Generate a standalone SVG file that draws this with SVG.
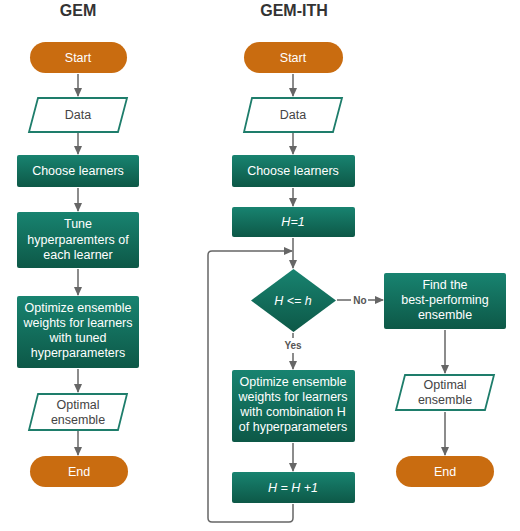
<svg xmlns="http://www.w3.org/2000/svg" width="520" height="531" viewBox="0 0 520 531">
<defs>
<linearGradient id="g" x1="0" y1="0" x2="0" y2="1">
<stop offset="0" stop-color="#188370"/>
<stop offset="1" stop-color="#0d5847"/>
</linearGradient>
<marker id="ah" markerWidth="10" markerHeight="10" refX="8" refY="5" orient="auto" markerUnits="userSpaceOnUse">
<path d="M0,1 L9,5 L0,9 Z" fill="#666"/>
</marker>
<style>
.title{font-family:"Liberation Sans",Arial,sans-serif;font-size:16px;font-weight:bold;fill:#333;text-anchor:middle}
.t{font-family:"Liberation Sans",Arial,sans-serif;font-size:12.5px;text-anchor:middle}
.w{fill:#fff}
.d{fill:#444}
.i{font-style:italic}
.term{fill:#c96c10}
.proc{fill:url(#g)}
.io{fill:#fff;stroke:#1e7d6b;stroke-width:1.8}
.c{fill:none;stroke:#666;stroke-width:1.5}
.ca{fill:none;stroke:#666;stroke-width:1.5;marker-end:url(#ah)}
.lbl{font-family:"Liberation Sans",Arial,sans-serif;font-size:10px;font-weight:bold;fill:#555;text-anchor:middle}
</style>
</defs>
<rect width="520" height="531" fill="#fff"/>
<text class="title" x="78" y="16">GEM</text>
<text class="title" x="294" y="16">GEM-ITH</text>

<g id="connectors">
<line class="ca" x1="78" y1="74" x2="78" y2="96"/>
<line class="ca" x1="78" y1="133" x2="78" y2="154"/>
<line class="ca" x1="78" y1="188" x2="78" y2="211"/>
<line class="ca" x1="78" y1="269" x2="78" y2="295"/>
<line class="ca" x1="78" y1="369" x2="78" y2="392"/>
<line class="ca" x1="78" y1="431" x2="78" y2="455"/>

<line class="ca" x1="293" y1="74" x2="293" y2="96"/>
<line class="ca" x1="293" y1="133" x2="293" y2="154"/>
<line class="ca" x1="293" y1="188" x2="293" y2="206"/>
<line class="ca" x1="293" y1="238" x2="293" y2="268"/>
<line class="c" x1="293" y1="333" x2="293" y2="338"/>
<line class="ca" x1="293" y1="353" x2="293" y2="369"/>
<line class="ca" x1="293" y1="443" x2="293" y2="471"/>
<path class="ca" d="M293,504 V518 Q293,522 289,522 H212 Q208,522 208,518 V255 Q208,251 212,251 H292"/>
<line class="c" x1="337" y1="300" x2="351" y2="300"/>
<line class="ca" x1="368" y1="300" x2="383" y2="300"/>
<line class="ca" x1="445" y1="330" x2="445" y2="373"/>
<line class="ca" x1="445" y1="412" x2="445" y2="455"/>
<text class="lbl" x="360" y="304">No</text>
<text class="lbl" x="293" y="349">Yes</text>
</g>

<g id="gem-start"><rect class="term" x="30" y="42" width="97" height="31" rx="15.5"/><text class="t w" x="78" y="62">Start</text></g>
<g id="gem-data"><path class="io" d="M38,98 H127 L118,132 H29 Z"/><text class="t d" x="78" y="119">Data</text></g>
<g id="gem-choose"><rect class="proc" x="17" y="155" width="122" height="32" rx="2"/><text class="t w" x="78" y="175">Choose learners</text></g>
<g id="gem-tune"><rect class="proc" x="17" y="212" width="122" height="56" rx="2"/><text class="t w" x="78" y="228">Tune</text><text class="t w" x="78" y="244">hyperparemters of</text><text class="t w" x="78" y="259">each learner</text></g>
<g id="gem-optimize"><rect class="proc" x="17" y="296" width="122" height="72" rx="2"/><text class="t w" x="78" y="312">Optimize ensemble</text><text class="t w" x="78" y="327">weights for learners</text><text class="t w" x="78" y="342">with tuned</text><text class="t w" x="78" y="357">hyperparameters</text></g>
<g id="gem-optimal"><path class="io" d="M38,394 H127 L118,430 H29 Z"/><text class="t d" x="78" y="409">Optimal</text><text class="t d" x="78" y="424">ensemble</text></g>
<g id="gem-end"><rect class="term" x="30" y="456" width="98" height="31" rx="15.5"/><text class="t w" x="79" y="476">End</text></g>

<g id="ith-start"><rect class="term" x="244" y="42" width="99" height="31" rx="15.5"/><text class="t w" x="293" y="62">Start</text></g>
<g id="ith-data"><path class="io" d="M252,98 H342 L333,132 H244 Z"/><text class="t d" x="293" y="119">Data</text></g>
<g id="ith-choose"><rect class="proc" x="232" y="155" width="123" height="32" rx="2"/><text class="t w" x="293" y="175">Choose learners</text></g>
<g id="ith-h1"><rect class="proc" x="232" y="207" width="123" height="30" rx="2"/><text class="t w i" x="293" y="226">H=1</text></g>
<g id="ith-cond"><path class="proc" d="M293.5,269 L336,300.5 L293.5,332 L251,300.5 Z"/><text class="t w i" x="293" y="305">H &lt;= h</text></g>
<g id="ith-find"><rect class="proc" x="384" y="273" width="122" height="56" rx="2"/><text class="t w" x="445" y="289">Find the</text><text class="t w" x="445" y="304">best-performing</text><text class="t w" x="445" y="319">ensemble</text></g>
<g id="ith-optimize"><rect class="proc" x="232" y="370" width="123" height="72" rx="2"/><text class="t w" x="293" y="386">Optimize ensemble</text><text class="t w" x="293" y="401">weights for learners</text><text class="t w" x="293" y="416">with combination H</text><text class="t w" x="293" y="431">of hyperparameters</text></g>
<g id="ith-inc"><rect class="proc" x="232" y="472" width="123" height="31" rx="2"/><text class="t w i" x="293" y="492">H = H +1</text></g>
<g id="ith-optimal"><path class="io" d="M405,375 H494 L485,410 H396 Z"/><text class="t d" x="445" y="389">Optimal</text><text class="t d" x="445" y="404">ensemble</text></g>
<g id="ith-end"><rect class="term" x="396" y="456" width="98" height="31" rx="15.5"/><text class="t w" x="445" y="476">End</text></g>
</svg>
